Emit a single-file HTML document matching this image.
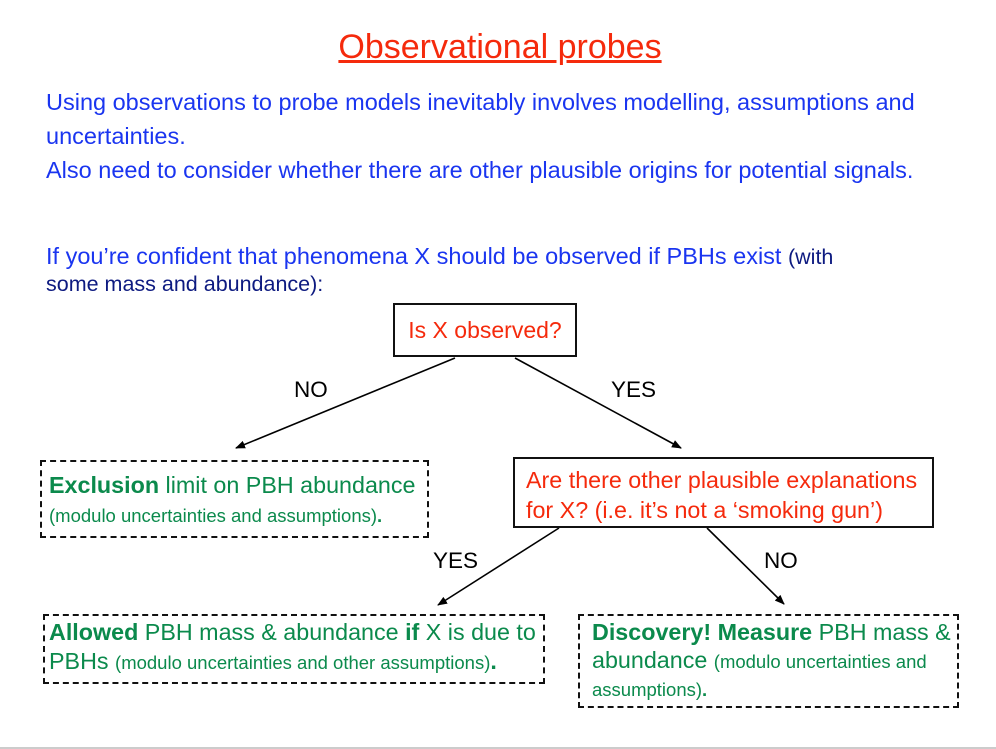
<!DOCTYPE html>
<html><head><meta charset="utf-8"><style>
body{margin:0;width:996px;height:749px;background:#fff;position:relative;overflow:hidden;font-family:"Liberation Sans",Arial,sans-serif}
.a{position:absolute;white-space:nowrap;line-height:1}
.b{color:#1a35f0;font-size:23.5px}
.g{color:#0b8a4c}
.r{color:#f52a0c}
.d{position:absolute;border:2px dashed #111;box-sizing:border-box}
.s{position:absolute;border:2px solid #111;box-sizing:border-box}
.k{font-size:22.5px;color:#000}
.sm{font-size:18.5px}
</style></head><body>
<div style="position:absolute;left:0;top:747px;width:996px;height:2px;background:#ccc"></div>
<div class="a r" style="left:0;width:1000px;text-align:center;top:30px;font-size:34px;text-decoration:underline">Observational probes</div>
<div class="a b" style="left:46px;top:91px">Using observations to probe models inevitably involves modelling, assumptions and</div>
<div class="a b" style="left:46px;top:125px">uncertainties.</div>
<div class="a b" style="left:46px;top:159px">Also need to consider whether there are other plausible origins for potential signals.</div>
<div class="a b" style="left:46px;top:245px">If you’re confident that phenomena X should be observed if PBHs exist <span style="font-size:21.5px;color:#0d1a80">(with</span></div>
<div class="a" style="left:46px;top:274px;font-size:21.5px;color:#0d1a80">some mass and abundance):</div>

<div class="s" style="left:393px;top:303px;width:184px;height:54px"></div>
<div class="a r" style="left:393px;width:184px;text-align:center;top:319px;font-size:23px">Is X observed?</div>

<svg style="position:absolute;left:0;top:0" width="996" height="749">
<defs><marker id="m" markerWidth="10" markerHeight="8" refX="9" refY="4" orient="auto" markerUnits="userSpaceOnUse"><path d="M0,0L10,4L0,8z" fill="#000"/></marker></defs>
<g stroke="#000" stroke-width="1.6" marker-end="url(#m)">
<line x1="455" y1="358" x2="236" y2="448"/>
<line x1="515" y1="358" x2="681" y2="448"/>
<line x1="559" y1="528" x2="438" y2="605"/>
<line x1="707" y1="528" x2="784" y2="604"/>
</g></svg>
<div class="a k" style="left:294px;top:379px">NO</div>
<div class="a k" style="left:611px;top:379px">YES</div>
<div class="a k" style="left:433px;top:550px">YES</div>
<div class="a k" style="left:764px;top:550px">NO</div>

<div class="d" style="left:40px;top:460px;width:389px;height:78px"></div>
<div class="a g" style="left:49px;top:474px;font-size:23.3px"><b>Exclusion</b> limit on PBH abundance</div>
<div class="a g sm" style="left:49px;top:507px">(modulo uncertainties and assumptions)<b>.</b></div>

<div class="s" style="left:513px;top:457px;width:421px;height:71px"></div>
<div class="a r" style="left:526px;top:465px;font-size:23.3px;line-height:30px">Are there other plausible explanations<br>for X? (i.e. it’s not a ‘smoking gun’)</div>

<div class="d" style="left:43px;top:614px;width:502px;height:70px"></div>
<div class="a g" style="left:49px;top:621px;font-size:23.3px"><b>Allowed</b> PBH mass &amp; abundance <b>if</b> X is due to</div>
<div class="a g" style="left:49px;top:650px;font-size:23.3px">PBHs <span class="sm">(modulo uncertainties and other assumptions)</span><b>.</b></div>

<div class="d" style="left:578px;top:614px;width:381px;height:94px"></div>
<div class="a g" style="left:592px;top:621px;font-size:23.3px"><b>Discovery! Measure</b> PBH mass &amp;</div>
<div class="a g" style="left:592px;top:649px;font-size:23.3px">abundance <span class="sm">(modulo uncertainties and</span></div>
<div class="a g sm" style="left:592px;top:681px">assumptions)<b>.</b></div>
</body></html>
